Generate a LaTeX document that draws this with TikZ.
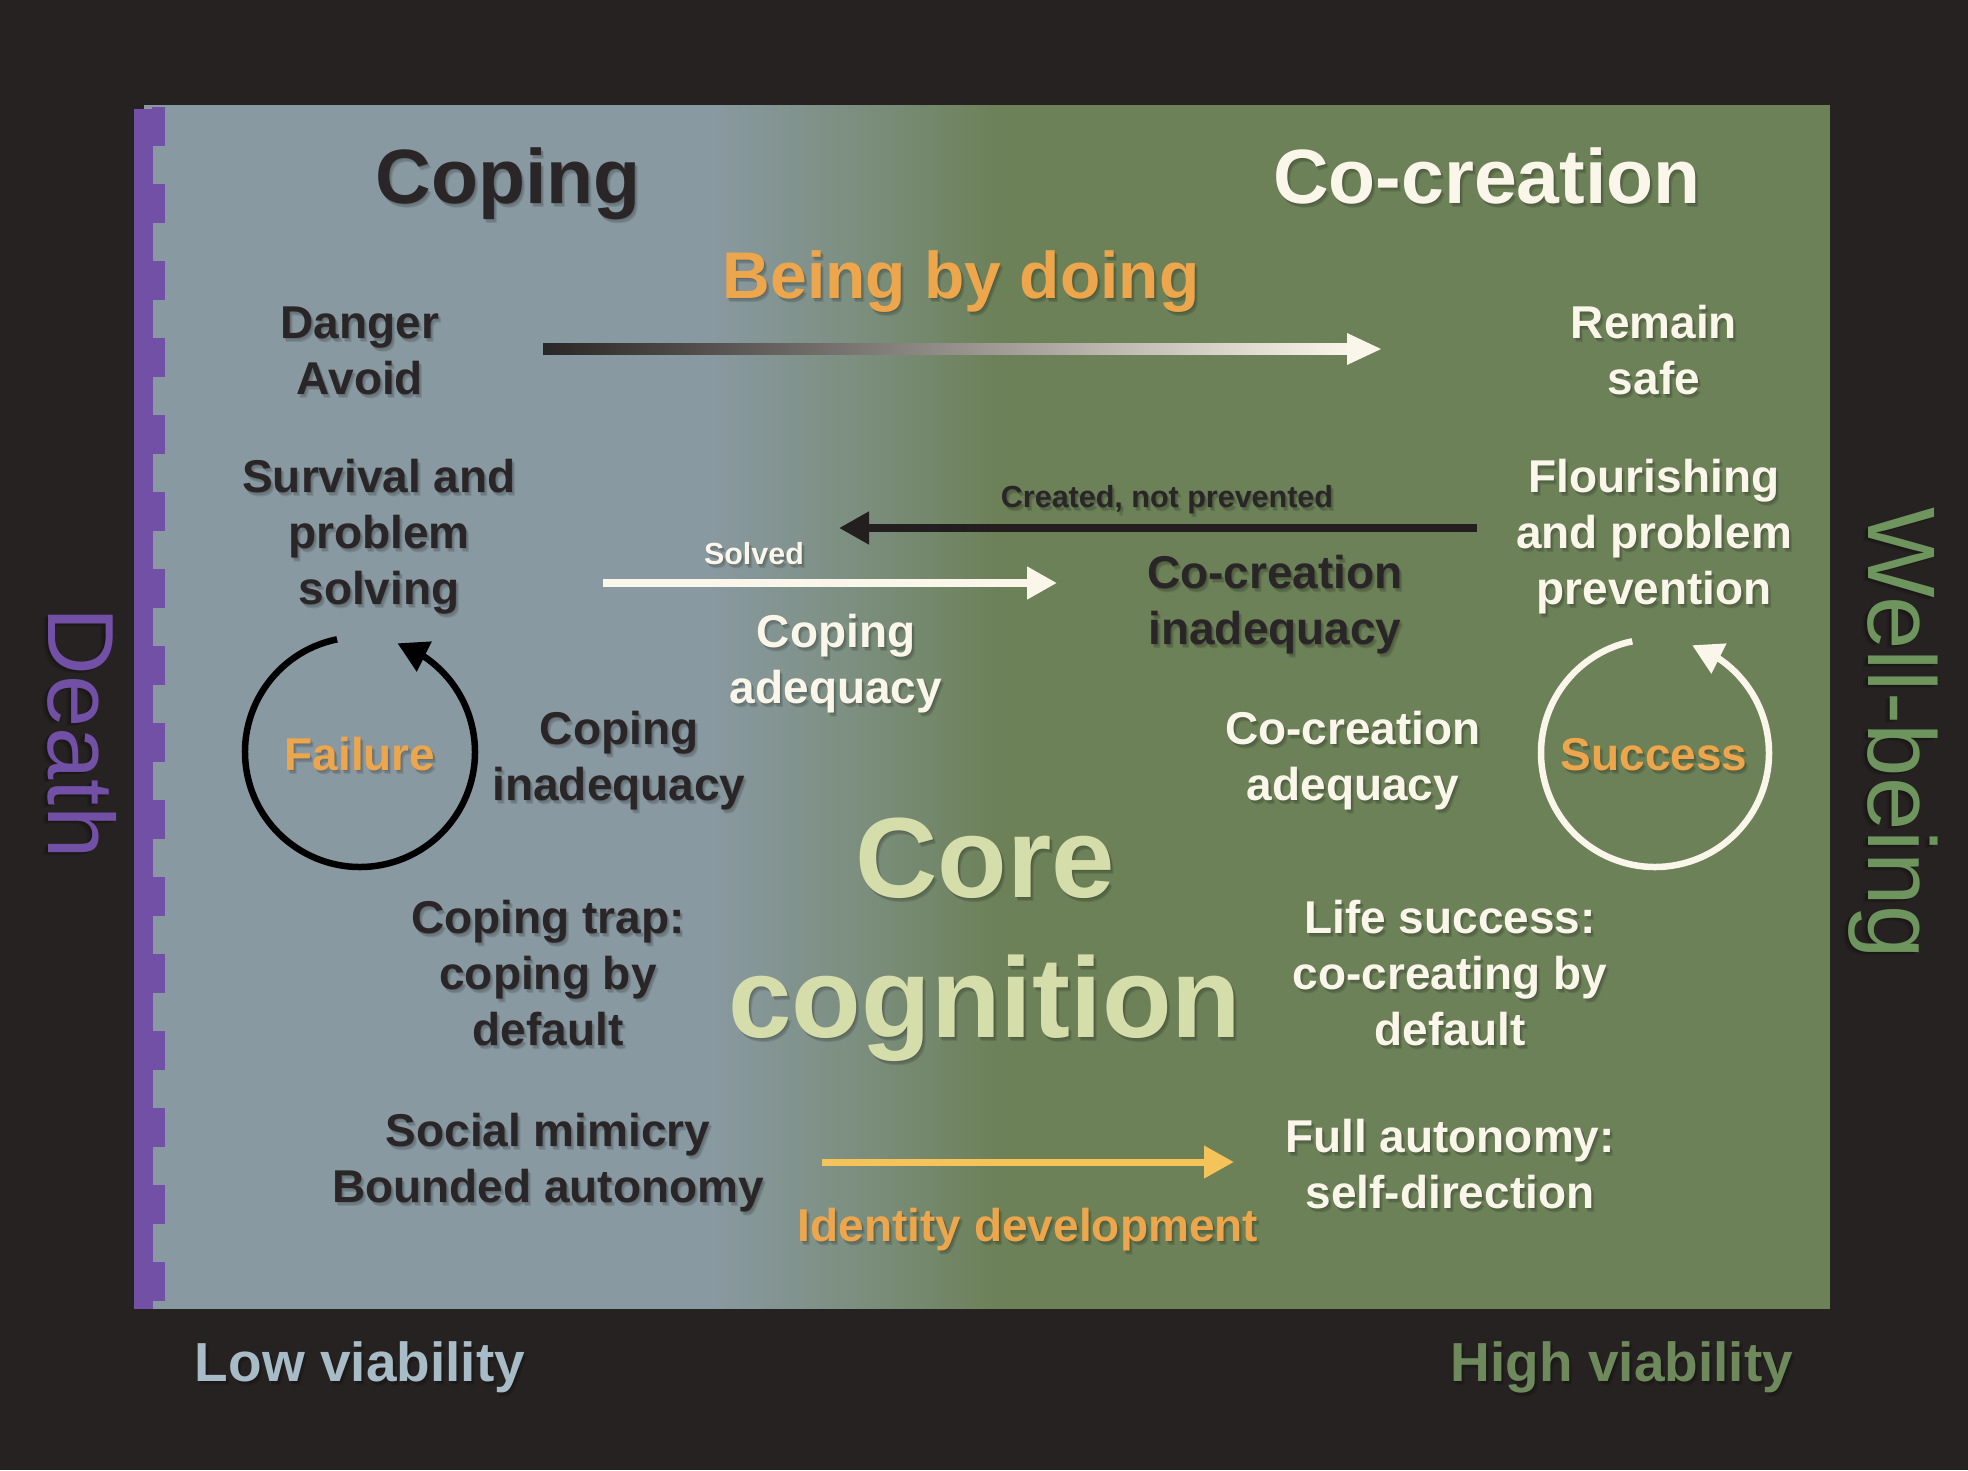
\documentclass[tikz,border=0pt]{standalone}
\usepackage{fontspec}
\setmainfont{Liberation Sans}
\usetikzlibrary{arrows.meta,bending}
\definecolor{bgdark}{HTML}{262221}
\definecolor{panelgray}{HTML}{8999A1}
\definecolor{panelmid}{HTML}{7C8F80}
\definecolor{panelgreen}{HTML}{6C8158}
\definecolor{deathpurple}{HTML}{7150A6}
\definecolor{txtdark}{HTML}{2A2627}
\definecolor{cream}{HTML}{FBF6EA}
\definecolor{orangetxt}{HTML}{EDA64B}
\definecolor{yellowarrow}{HTML}{F4C45A}
\definecolor{coretxt}{HTML}{D5DDAA}
\definecolor{lowviab}{HTML}{A8BCC7}
\definecolor{highviab}{HTML}{6E8A5D}
\definecolor{wellgreen}{HTML}{6E955E}
\definecolor{arrowdark}{HTML}{231F1F}
\newcommand\stext[4]{%
  \foreach \dx/\dy in {1pt/-1.5pt,2pt/-3pt,3pt/-4.5pt}{%
    \node[#2, text=black, text opacity=0.10, xshift=\dx, yshift=\dy] at #3 {#4};}%
  \node[#2] (#1) at #3 {#4};}
\tikzset{
  lbl/.style={font=\bfseries\fontsize{46pt}{56pt}\selectfont, align=center, anchor=base, inner sep=0pt},
  titletxt/.style={font=\bfseries\fontsize{77pt}{90pt}\selectfont, anchor=base, inner sep=0pt},
  smalltxt/.style={font=\bfseries\fontsize{30.5pt}{36pt}\selectfont, anchor=base, inner sep=0pt},
  sidetxt/.style={anchor=base, inner sep=0pt, rotate=-90},
  conn/.style={line width=8pt, -{Triangle[length=30pt,width=31pt]}},
  loopline/.style={line width=6.5pt, -{Triangle[length=30pt,width=32pt]}},
}
\begin{document}
\begin{tikzpicture}[x=1pt,y=-1pt]
\useasboundingbox (0,0) rectangle (1968,1470);
\fill[bgdark] (0,0) rectangle (1968,1470);
% panel
\begin{scope}
\clip (144,105) rectangle (1830,1308);
\fill[panelgray] (144,100) rectangle (712,1312);
\shade[left color=panelgray, right color=panelgreen, middle color=panelmid] (710,100) rectangle (998,1312);
\fill[panelgreen] (996,100) rectangle (1830,1312);
\end{scope}
% purple edge
\fill[deathpurple] (134,109) rectangle (153,1309);
\foreach \k in {0,...,15}{\fill[deathpurple] (152,107+77*\k) rectangle (165,145.5+77*\k);}
% titles
\stext{coping}{titletxt, text=txtdark}{(508,203)}{Coping}
\stext{cocreation}{titletxt, text=cream}{(1487,203)}{Co-creation}
\stext{being}{font=\bfseries\fontsize{66pt}{70pt}\selectfont, anchor=base, inner sep=0pt, text=orangetxt}{(961,298)}{Being by doing}
% labels (anchor base = baseline of last line)
\stext{danger}{lbl, text=txtdark}{(360,394)}{Danger\\Avoid}
\stext{remain}{lbl, text=cream}{(1654,394)}{Remain\\safe}
\stext{survival}{lbl, text=txtdark}{(379,604)}{Survival and\\problem\\solving}
\stext{flourish}{lbl, text=cream}{(1654,604)}{Flourishing\\and problem\\prevention}
\stext{created}{smalltxt, text=txtdark}{(1167,507)}{Created, not prevented}
\stext{solved}{smalltxt, text=cream}{(754,564)}{Solved}
\stext{cocinad}{lbl, text=txtdark}{(1275,644)}{Co-creation\\inadequacy}
\stext{copade}{lbl, text=cream}{(836,703)}{Coping\\adequacy}
\stext{copinad}{lbl, text=txtdark}{(619,800)}{Coping\\inadequacy}
\stext{cocad}{lbl, text=cream}{(1353,800)}{Co-creation\\adequacy}
\stext{failure}{lbl, text=orangetxt}{(360,770)}{Failure}
\stext{success}{lbl, text=orangetxt}{(1654,770)}{Success}
\stext{core}{font=\bfseries\fontsize{114pt}{140pt}\selectfont, align=center, anchor=base, inner sep=0pt, text=coretxt}{(985,1037)}{Core\\cognition}
\stext{trap}{lbl, text=txtdark}{(548,1045)}{Coping trap:\\coping by\\default}
\stext{life}{lbl, text=cream}{(1450,1045)}{Life success:\\co-creating by\\default}
\stext{social}{lbl, text=txtdark}{(548,1202)}{Social mimicry\\Bounded autonomy}
\stext{fullaut}{lbl, text=cream}{(1450,1208)}{Full autonomy:\\self-direction}
\stext{identity}{lbl, text=orangetxt}{(1028,1241)}{Identity development}
% bottom labels
\stext{low}{font=\bfseries\fontsize{55pt}{60pt}\selectfont, anchor=base, inner sep=0pt, text=lowviab}{(360,1381)}{Low viability}
\stext{high}{font=\bfseries\fontsize{55pt}{60pt}\selectfont, anchor=base, inner sep=0pt, text=highviab}{(1622,1381)}{High viability}
% side labels
\stext{death}{sidetxt, font=\fontsize{94pt}{100pt}\selectfont, text=deathpurple}{(48,733)}{Death}
\stext{well}{sidetxt, font=\fontsize{96pt}{100pt}\selectfont, text=wellgreen}{(1868,733)}{Well-being}
% gradient arrow Danger -> Remain safe
\coordinate (ga) at (543,349);
\coordinate (gb) at (1381,349);
\shade[left color=txtdark, right color=cream] (ga) ++(0,-5.5) rectangle (1352,354.5);
\fill[cream] (1347,333) -- (gb) -- (1347,365) -- cycle;
% created, not prevented
\coordinate (cs) at (1477,528);
\coordinate (ce) at (839,528);
\draw[conn, arrowdark] (cs) -- (ce);
% solved
\coordinate (ss) at (603,583);
\coordinate (se) at (1057,583);
\draw[conn, cream] (ss) -- (se);
% identity development
\coordinate (is) at (822,1162);
\coordinate (ie) at (1234,1162);
\draw[conn, line width=7pt, yellowarrow] (is) -- (ie);
% loops
\coordinate (fc) at (360,752);
\coordinate (sc) at (1655,753);
\draw[loopline, black] (fc) ++(-101.5:115) arc[start angle=-101.5, end angle=-431, radius=115];
\draw[loopline, cream] (sc) ++(-101.5:114) arc[start angle=-101.5, end angle=-431, radius=114];
\end{tikzpicture}
\end{document}
